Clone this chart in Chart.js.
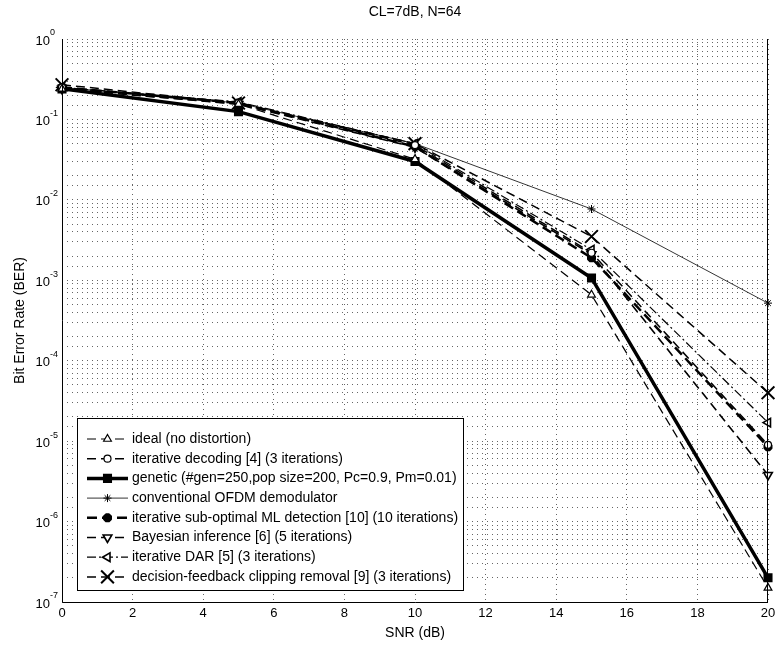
<!DOCTYPE html>
<html>
<head>
<meta charset="utf-8">
<script src="https://cdn.jsdelivr.net/npm/chart.js@4.4.0/dist/chart.umd.min.js"></script>
<style>
  html, body { margin: 0; padding: 0; background: #fff; }
  #wrap { width: 775px; height: 648px; position: relative; }
</style>
</head>
<body>
<div id="wrap"><canvas id="berChart" width="775" height="648"></canvas></div>
<script>
// SNR points (dB)
const snr = [0, 5, 10, 15, 20];

// BER values
const idealBer = [0.24, 0.155, 0.032, 0.00066, 1.5e-7];
const iterDecodingBer = [0.25, 0.16, 0.048, 0.0022, 9e-6];
const geneticBer = [0.24, 0.125, 0.030, 0.00107, 2.0e-7];
const conventionalBer = [0.25, 0.16, 0.05, 0.0077, 5.2e-4];
const subOptMlBer = [0.25, 0.16, 0.046, 0.0019, 8.5e-6];
const bayesianBer = [0.24, 0.155, 0.045, 0.0021, 3.8e-6];
const darBer = [0.25, 0.165, 0.05, 0.0024, 1.7e-5];
const clippingBer = [0.27, 0.16, 0.05, 0.0035, 4.0e-5];

const xTicks = [0, 2, 4, 6, 8, 10, 12, 14, 16, 18, 20];
const yTickExps = [0, -1, -2, -3, -4, -5, -6, -7];

const labels = [
  "ideal (no distortion)",
  "iterative decoding [4] (3 iterations)",
  "genetic (#gen=250,pop size=200, Pc=0.9, Pm=0.01)",
  "conventional OFDM demodulator",
  "iterative sub-optimal ML detection [10] (10 iterations)",
  "Bayesian inference [6] (5 iterations)",
  "iterative DAR [5] (3 iterations)",
  "decision-feedback clipping removal [9] (3 iterations)"
];

const FONT = "'Liberation Sans', Arial, sans-serif";

function pts(vals) {
  return snr.map((x, i) => ({ x: x, y: vals[i] }));
}

function series(label, vals, opts) {
  return Object.assign({
    label: label,
    data: pts(vals),
    borderColor: "#000",
    pointBorderColor: "#000",
    pointBackgroundColor: "#fff",
    pointBorderWidth: 1.2,
    borderWidth: 1.2,
    tension: 0,
    fill: false,
    clip: false
  }, opts);
}

const datasets = [
  series(labels[0], idealBer, { borderDash: [9, 5], pointStyle: "triangle", pointRadius: 4.5 }),
  series(labels[1], iterDecodingBer, { borderDash: [9, 5], borderWidth: 1.5, pointStyle: "circle", pointRadius: 3.5 }),
  series(labels[2], geneticBer, { borderWidth: 3.5, pointStyle: "rect", pointRadius: 5, pointBackgroundColor: "#000", pointBorderWidth: 2 }),
  series(labels[3], conventionalBer, { borderWidth: 0.8, pointStyle: "star", pointRadius: 4, pointBorderWidth: 1 }),
  series(labels[4], subOptMlBer, { borderDash: [10, 5], borderWidth: 2.5, pointStyle: "star", pointRadius: 4.5, pointBorderWidth: 3.5, pointBackgroundColor: "#000" }),
  series(labels[5], bayesianBer, { borderDash: [9, 5], borderWidth: 1.6, pointStyle: "triangle", pointRotation: 180, pointRadius: 5, pointBorderWidth: 1.6 }),
  series(labels[6], darBer, { borderDash: [9, 3, 2, 3], borderWidth: 1.2, pointStyle: "triangle", pointRotation: -90, pointRadius: 5, pointBorderWidth: 1.6 }),
  series(labels[7], clippingBer, { borderDash: [9, 5], borderWidth: 1.5, pointStyle: "crossRot", pointRadius: 9, pointBorderWidth: 2 })
];

// draws box, titles, y tick labels and the legend inside the plot
const matlabDecor = {
  id: "matlabDecor",
  afterDraw(chart) {
    const ctx = chart.ctx;
    const a = chart.chartArea;
    const yScale = chart.scales.y;
    ctx.save();

    ctx.strokeStyle = "#000";
    ctx.lineWidth = 1;
    ctx.setLineDash([]);
    ctx.beginPath();
    ctx.moveTo(Math.round(a.left) + 0.5, Math.round(a.top));
    ctx.lineTo(Math.round(a.left) + 0.5, Math.round(a.bottom) + 0.5);
    ctx.lineTo(Math.round(a.right), Math.round(a.bottom) + 0.5);
    ctx.moveTo(Math.round(a.right) - 0.5, Math.round(a.top));
    ctx.lineTo(Math.round(a.right) - 0.5, Math.round(a.bottom));
    ctx.stroke();

    ctx.fillStyle = "#000";
    ctx.textAlign = "center";
    ctx.textBaseline = "middle";
    ctx.font = "14px " + FONT;
    ctx.fillText("CL=7dB, N=64", (a.left + a.right) / 2, 12);
    ctx.fillText("SNR (dB)", (a.left + a.right) / 2, 633);
    ctx.save();
    ctx.translate(20, (a.top + a.bottom) / 2);
    ctx.rotate(-Math.PI / 2);
    ctx.fillText("Bit Error Rate (BER)", 0, 0);
    ctx.restore();

    // y tick labels 10^n
    yTickExps.forEach(e => {
      const y = yScale.getPixelForValue(Math.pow(10, e));
      ctx.font = "13px " + FONT;
      ctx.textAlign = "right";
      ctx.fillText("10", 50, y + 2);
      ctx.font = "9px " + FONT;
      ctx.textAlign = "left";
      ctx.fillText(String(e), 50, y - 6);
    });

    // legend
    const lx = 77, ly = 418, lw = 386, lh = 172;
    ctx.fillStyle = "#fff";
    ctx.fillRect(lx, ly, lw, lh);
    ctx.strokeStyle = "#000";
    ctx.lineWidth = 1;
    ctx.strokeRect(lx + 0.5, ly + 0.5, lw, lh);
    chart.data.datasets.forEach((ds, i) => {
      const y = 439 + i * 19.7;
      ctx.save();
      ctx.strokeStyle = "#000";
      ctx.lineWidth = ds.borderWidth;
      ctx.setLineDash(ds.borderDash || []);
      ctx.beginPath();
      ctx.moveTo(87, y);
      ctx.lineTo(128, y);
      ctx.stroke();
      ctx.setLineDash([]);
      ctx.fillStyle = ds.pointBackgroundColor;
      ctx.strokeStyle = "#000";
      ctx.lineWidth = ds.pointBorderWidth;
      Chart.helpers.drawPoint(ctx, {
        pointStyle: ds.pointStyle,
        radius: ds.pointRadius,
        rotation: ds.pointRotation || 0,
        borderWidth: ds.pointBorderWidth
      }, 107.5, y);
      ctx.restore();
      ctx.fillStyle = "#000";
      ctx.font = "14px " + FONT;
      ctx.textAlign = "left";
      ctx.textBaseline = "middle";
      ctx.fillText(ds.label, 132, y);
    });
    ctx.restore();
  }
};

new Chart(document.getElementById("berChart"), {
  type: "line",
  data: { datasets: datasets },
  options: {
    responsive: false,
    animation: false,
    layout: { autoPadding: false, padding: { top: 39, right: 7, left: 0, bottom: 0 } },
    plugins: {
      legend: { display: false },
      title: { display: false },
      tooltip: { enabled: false }
    },
    scales: {
      x: {
        type: "linear",
        min: 0,
        max: 20,
        afterBuildTicks(scale) {
          scale.ticks = xTicks.map(v => ({ value: v }));
        },
        afterFit(scale) {
          scale.height = 46;
          scale.paddingLeft = 0;
          scale.paddingRight = 0;
        },
        grid: { color: "#666", lineWidth: 1, drawTicks: false },
        border: { display: false, dash: [1, 4] },
        ticks: { color: "#000", font: { size: 13, family: FONT }, padding: 4, maxRotation: 0 }
      },
      y: {
        type: "logarithmic",
        min: 1e-7,
        max: 1,
        afterFit(scale) { scale.width = 62; },
        grid: { color: "#666", lineWidth: 1, drawTicks: false },
        border: { display: false, dash: [1, 4] },
        ticks: { display: false }
      }
    }
  },
  plugins: [matlabDecor]
});
</script>
</body>
</html>
